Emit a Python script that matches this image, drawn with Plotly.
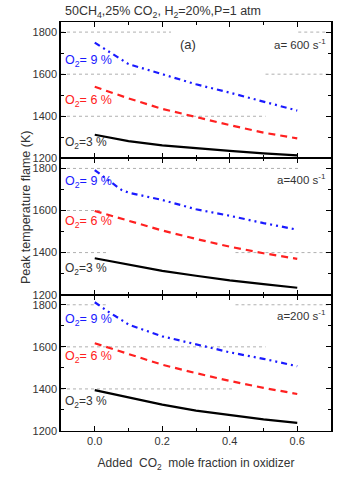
import plotly.graph_objects as go
from plotly.subplots import make_subplots

# ---- data ----
x_frac = [0.0, 0.1, 0.2, 0.3, 0.4, 0.5, 0.6]
x_frac_o9 = [0.0, 0.04, 0.08, 0.1, 0.2, 0.3, 0.4, 0.5, 0.6]

strain_labels = ["a= 600 s<sup>-1</sup>", "a=400 s<sup>-1</sup>", "a=200 s<sup>-1</sup>"]

t600_o3 = [1312, 1282, 1262, 1247, 1235, 1224, 1214]
t600_o6 = [1540, 1485, 1435, 1395, 1358, 1322, 1295]
t600_o9 = [1750, 1708, 1665, 1648, 1600, 1552, 1512, 1470, 1427]

t400_o3 = [1373, 1342, 1313, 1290, 1268, 1250, 1233]
t400_o6 = [1598, 1550, 1505, 1465, 1428, 1397, 1370]
t400_o9 = [1792, 1745, 1697, 1685, 1650, 1606, 1575, 1540, 1509]

t200_o3 = [1394, 1358, 1325, 1297, 1275, 1255, 1239]
t200_o6 = [1617, 1565, 1515, 1475, 1438, 1405, 1376]
t200_o9 = [1812, 1767, 1727, 1706, 1650, 1612, 1574, 1543, 1508]

y_ticks = [1200, 1400, 1600, 1800]
x_ticks = [0.0, 0.2, 0.4, 0.6]
x_tick_text = ["0.0", "0.2", "0.4", "0.6"]

panels = [
    (t600_o3, t600_o6, t600_o9),
    (t400_o3, t400_o6, t400_o9),
    (t200_o3, t200_o6, t200_o9),
]

# label positions (data units) per panel: (O2=9, O2=6, O2=3)
label_y = [(1663, 1474, 1271), (1734, 1545, 1323), (1727, 1554, 1337)]
strain_y = [1743, 1748, 1751]

# partial dotted reference lines seen in the original (y, x0, x1) per panel
grid_segments = [
    [(1800, -0.1, 0.226), (1800, 0.603, 0.69), (1600, -0.1, 0.128), (1600, 0.506, 0.7), (1400, -0.1, 0.506)],
    [(1800, -0.1, 0.604), (1600, -0.1, 0.015), (1400, -0.1, 0.036), (1400, 0.417, 0.7)],
    [(1800, -0.083, 0.036), (1800, 0.417, 0.7), (1600, -0.1, 0.506), (1400, -0.1, 0.41)],
]

FONT = "Liberation Sans, Arial, sans-serif"
TXT = "#333333"
BLUE = "#1a1aff"
RED = "#ff2020"

W, H = 349, 480

fig = make_subplots(rows=3, cols=1, shared_xaxes=True, vertical_spacing=0)

for i, (o3, o6, o9) in enumerate(panels):
    r = i + 1
    for y, x0, x1 in grid_segments[i]:
        fig.add_shape(type="line", x0=x0, x1=x1, y0=y, y1=y, row=r, col=1,
                      line=dict(color="#b0b0b0", width=1, dash="dot"), layer="below")
    fig.add_trace(go.Scatter(x=x_frac, y=o3, mode="lines",
                             line=dict(color="black", width=2.2), showlegend=False), row=r, col=1)
    fig.add_trace(go.Scatter(x=x_frac, y=o6, mode="lines",
                             line=dict(color=RED, width=2.2, dash="7px,5px"), showlegend=False), row=r, col=1)
    fig.add_trace(go.Scatter(x=x_frac_o9, y=o9, mode="lines",
                             line=dict(color=BLUE, width=2.2, dash="6px,4px,2px,4px,2px,4px"),
                             showlegend=False), row=r, col=1)

    xa = "x" if r == 1 else f"x{r}"
    ya = "y" if r == 1 else f"y{r}"
    ly9, ly6, ly3 = label_y[i]
    fig.add_annotation(x=-0.093, y=ly9, xref=xa, yref=ya, xanchor="left", yanchor="middle",
                       text="O<sub>2</sub>= 9 %", showarrow=False,
                       font=dict(family=FONT, size=12.5, color=BLUE))
    fig.add_annotation(x=-0.093, y=ly6, xref=xa, yref=ya, xanchor="left", yanchor="middle",
                       text="O<sub>2</sub>= 6 %", showarrow=False,
                       font=dict(family=FONT, size=12.5, color=RED))
    fig.add_annotation(x=-0.095, y=ly3, xref=xa, yref=ya, xanchor="left", yanchor="middle",
                       text="O<sub>2</sub>=3 %", showarrow=False,
                       font=dict(family=FONT, size=12, color=TXT))
    fig.add_annotation(x=0.69, y=strain_y[i], xref=xa, yref=ya, xanchor="right", yanchor="middle",
                       text=strain_labels[i], showarrow=False,
                       font=dict(family=FONT, size=11.5, color=TXT))

    fig.update_yaxes(row=r, col=1, range=[1200, 1848], tickvals=y_ticks,
                     ticks="inside", ticklen=5, tickwidth=1.2, tickcolor="black",
                     minor=dict(dtick=100, tick0=1200, ticks="inside", ticklen=3, tickcolor="black"),
                     showline=True, linecolor="black", linewidth=1.5, mirror="ticks",
                     showgrid=False, zeroline=False,
                     tickfont=dict(family=FONT, size=11, color=TXT))
    fig.update_xaxes(row=r, col=1, range=[-0.1, 0.7], tickvals=x_ticks, ticktext=x_tick_text,
                     ticks="inside", ticklen=5, tickwidth=1.2, tickcolor="black",
                     minor=dict(tickvals=[0.1, 0.3, 0.5], ticks="inside", ticklen=3, tickcolor="black"),
                     showline=True, linecolor="black", linewidth=1, mirror="ticks",
                     showgrid=False, zeroline=False, showticklabels=(r == 3),
                     tickfont=dict(family=FONT, size=11, color=TXT))

fig.add_annotation(x=0.277, y=1743, xref="x", yref="y", text="(a)", showarrow=False,
                   font=dict(family=FONT, size=13, color=TXT))

fig.add_annotation(x=(26 - 61) / 270, y=(433 - 208) / 411, xref="paper", yref="paper",
                   text="Peak temperature flame (K)", textangle=-90, showarrow=False,
                   xanchor="center", yanchor="middle",
                   font=dict(family=FONT, size=12.5, color=TXT))

fig.update_layout(
    width=W, height=H,
    margin=dict(l=61, r=18, t=22, b=47),
    paper_bgcolor="white", plot_bgcolor="white",
    font=dict(family=FONT, color=TXT),
    title=dict(text="50CH<sub>4</sub>,25% CO<sub>2</sub>, H<sub>2</sub>=20%,P=1 atm",
               x=65 / W, xanchor="left", xref="container",
               y=1 - 11 / H, yanchor="middle", yref="container",
               font=dict(family=FONT, size=12.5, color=TXT)),
)
fig.update_xaxes(row=3, col=1,
                 title=dict(text="Added  CO<sub>2</sub>  mole fraction in oxidizer", standoff=12,
                            font=dict(family=FONT, size=12, color=TXT)))

fig.write_html("out.html", config={"displayModeBar": False},
               post_script="document.body.style.margin='0';")
